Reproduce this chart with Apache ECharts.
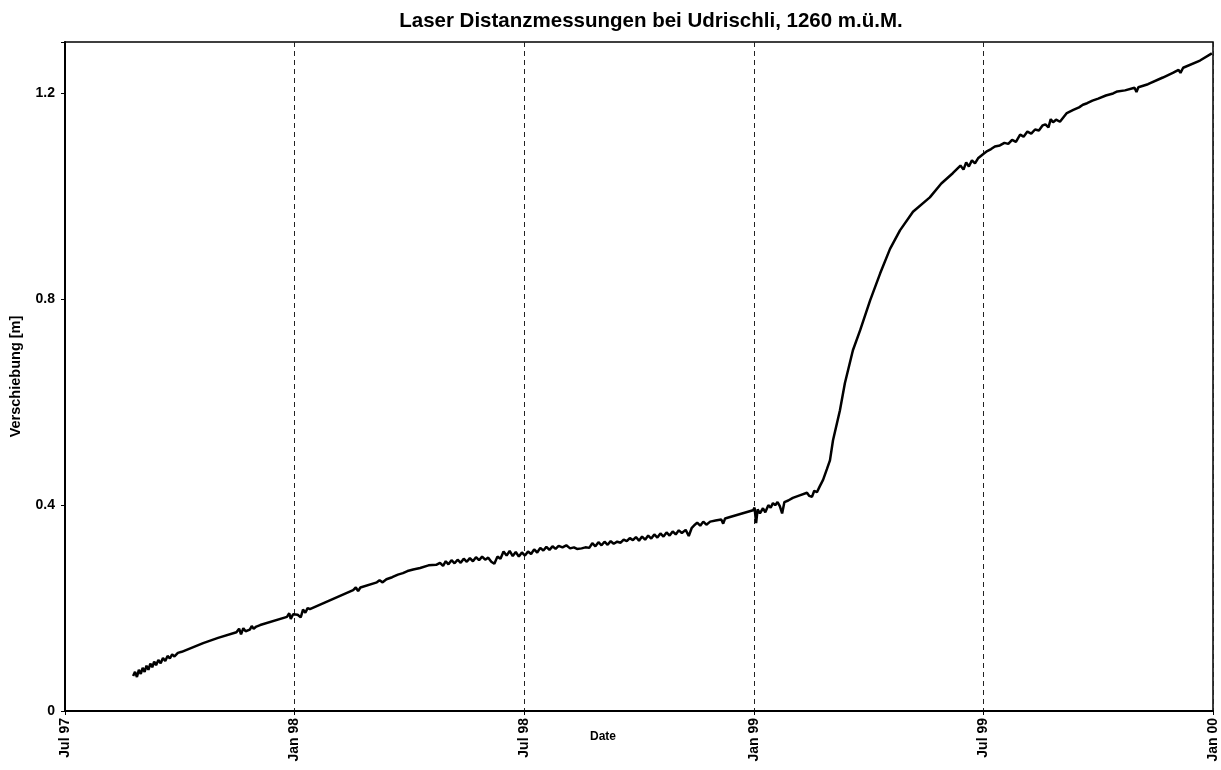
<!DOCTYPE html>
<html>
<head>
<meta charset="utf-8">
<title>Laser Distanzmessungen bei Udrischli</title>
<script src="https://cdn.jsdelivr.net/npm/echarts@6/dist/echarts.min.js"></script>
<style>
  html, body { margin: 0; padding: 0; background: #fff; }
  #chart { width: 1221px; height: 770px; }
</style>
</head>
<body>
<div id="chart"></div>
<script>
// x = months since 1 Jul 1997, y = displacement in m
const tickLabels = ['Jul 97', 'Jan 98', 'Jul 98', 'Jan 99', 'Jul 99', 'Jan 00']
const yTicks = [0, 0.4, 0.8, 1.2]

const months = [
  1.78, 1.83, 1.88, 1.93, 1.98, 2.03, 2.08, 2.13, 2.18, 2.23, 2.28, 2.33, 2.38, 2.44, 2.50, 2.56, 2.62, 2.68, 2.74, 2.80, 2.86, 2.95, 3.05,
  3.61, 4.00, 4.48, 4.55, 4.60, 4.66, 4.72, 4.83, 4.88, 4.93, 5.00, 5.10,
  5.80, 5.86, 5.90, 5.96, 6.01, 6.08, 6.16, 6.22, 6.28, 6.34, 6.40,
  7.53, 7.60, 7.66, 7.72, 8.15, 8.22, 8.30, 8.40, 8.55, 8.70, 8.83, 8.95, 9.10, 9.28, 9.50, 9.70,
  9.80, 9.88, 9.95, 10.02, 10.10, 10.18, 10.26, 10.34, 10.42, 10.50, 10.58, 10.66, 10.74, 10.82, 10.90, 10.98,
  11.06, 11.14, 11.22, 11.30, 11.38, 11.46, 11.54, 11.62, 11.70, 11.78, 11.86, 11.94, 12.02, 12.10, 12.18, 12.26,
  12.34, 12.42, 12.50, 12.58, 12.66, 12.74, 12.82, 12.90, 13.00, 13.10, 13.20, 13.30, 13.38, 13.50, 13.60, 13.70,
  13.78, 13.86, 13.94, 14.02, 14.10, 14.18, 14.26, 14.34, 14.43, 14.52, 14.60, 14.68, 14.76,
  14.84, 14.92, 15.00, 15.08, 15.16, 15.24, 15.32, 15.40, 15.48, 15.56, 15.64, 15.72, 15.80, 15.88, 15.96, 16.04,
  16.12, 16.22, 16.30, 16.38, 16.46, 16.52, 16.60, 16.68, 16.76, 16.86, 17.00, 17.15, 17.20, 17.25, 17.38,
  17.98, 18.02, 18.06, 18.10, 18.16, 18.24, 18.30, 18.38, 18.44, 18.50, 18.56, 18.62, 18.68, 18.74, 18.80, 18.90,
  19.02, 19.20, 19.39, 19.45, 19.52, 19.58, 19.65, 19.72, 19.81, 19.91, 19.99,
  20.07, 20.25, 20.38, 20.59, 20.78, 21.04, 21.30, 21.56, 21.82, 22.16, 22.60, 22.90, 23.20,
  23.40, 23.48, 23.55, 23.62, 23.70, 23.78, 23.86, 23.91, 23.99, 24.10, 24.20, 24.30, 24.43,
  24.55, 24.65, 24.75, 24.85, 24.96, 25.05, 25.15, 25.25, 25.35, 25.45, 25.55, 25.62, 25.70, 25.76, 25.82, 25.90, 26.00,
  26.18, 26.35, 26.50, 26.60, 26.71, 26.85, 27.00, 27.20, 27.39, 27.50, 27.70, 27.95, 28.00, 28.05, 28.30,
  28.69, 28.95, 29.10, 29.15, 29.22, 29.66, 29.97
]

const shift = [
  0.068, 0.076, 0.066, 0.080, 0.072, 0.084, 0.076, 0.088, 0.080, 0.092, 0.085, 0.096, 0.089, 0.099, 0.093, 0.103, 0.097, 0.107, 0.102, 0.110, 0.106, 0.113, 0.115,
  0.132, 0.142, 0.153, 0.160, 0.149, 0.161, 0.155, 0.158, 0.165, 0.160, 0.164, 0.167,
  0.183, 0.190, 0.179, 0.188, 0.185, 0.187, 0.182, 0.197, 0.191, 0.200, 0.198,
  0.235, 0.240, 0.233, 0.240, 0.250, 0.254, 0.250, 0.256, 0.260, 0.265, 0.268, 0.272, 0.275, 0.278, 0.283, 0.284,
  0.288, 0.282, 0.291, 0.285, 0.293, 0.287, 0.294, 0.288, 0.296, 0.290, 0.297, 0.291, 0.299, 0.293, 0.300, 0.294,
  0.298, 0.290, 0.286, 0.300, 0.296, 0.310, 0.302, 0.311, 0.301, 0.309, 0.300, 0.308, 0.302, 0.310, 0.305, 0.314,
  0.308, 0.317, 0.312, 0.319, 0.313, 0.320, 0.315, 0.321, 0.318, 0.322, 0.316, 0.318, 0.315, 0.316, 0.318, 0.317,
  0.326, 0.320, 0.328, 0.322, 0.329, 0.323, 0.330, 0.325, 0.329, 0.327, 0.333, 0.330, 0.336,
  0.332, 0.338, 0.331, 0.339, 0.333, 0.341, 0.335, 0.343, 0.337, 0.345, 0.339, 0.347, 0.341, 0.349, 0.343, 0.351,
  0.346, 0.352, 0.340, 0.356, 0.362, 0.366, 0.360, 0.368, 0.362, 0.368, 0.370, 0.372, 0.364, 0.374, 0.377,
  0.390, 0.395, 0.365, 0.392, 0.384, 0.394, 0.386, 0.400, 0.395, 0.404, 0.400, 0.406, 0.398, 0.384, 0.406, 0.409,
  0.414, 0.419, 0.424, 0.418, 0.416, 0.428, 0.425, 0.436, 0.449, 0.470, 0.487,
  0.526, 0.584, 0.637, 0.701, 0.740, 0.798, 0.850, 0.898, 0.934, 0.970, 0.998, 1.025, 1.045,
  1.060, 1.052, 1.066, 1.058, 1.070, 1.064, 1.074, 1.076, 1.082, 1.088, 1.092, 1.097, 1.099,
  1.104, 1.102, 1.110, 1.106, 1.120, 1.116, 1.126, 1.122, 1.130, 1.128, 1.138, 1.140, 1.134, 1.150, 1.144, 1.149, 1.145,
  1.162, 1.168, 1.173, 1.178, 1.181, 1.186, 1.190, 1.196, 1.200, 1.204, 1.206, 1.211, 1.203, 1.212, 1.218,
  1.231, 1.240, 1.246, 1.240, 1.250, 1.264, 1.278
]

const font = "'Liberation Sans', Arial, sans-serif"
const chart = echarts.init(document.getElementById('chart'))

chart.setOption({
  backgroundColor: '#fff',
  animation: false,
  title: {
    text: 'Laser Distanzmessungen bei Udrischli, 1260 m.ü.M.',
    left: 646,
    top: 6,
    textAlign: 'center',
    textStyle: { fontFamily: font, fontWeight: 'bold', fontSize: 20.5, color: '#000' }
  },
  grid: {
    left: 65,
    right: 8,
    top: 42,
    bottom: 59,
    outerBoundsMode: 'none',
    containLabel: false,
    show: true,
    borderColor: '#000',
    borderWidth: 1.5
  },
  xAxis: {
    type: 'value',
    min: 0,
    max: 30,
    interval: 6,
    name: 'Date',
    nameLocation: 'middle',
    nameGap: 20,
    nameMoveOverlap: false,
    nameTextStyle: { fontFamily: font, fontWeight: 'bold', fontSize: 12, color: '#000', padding: [0, 72, 0, 0] },
    axisLine: { lineStyle: { color: '#000', width: 2 } },
    axisTick: { show: true, length: 4, lineStyle: { color: '#000', width: 1 } },
    axisLabel: {
      rotate: 90,
      margin: 7,
      fontFamily: font,
      fontWeight: 'bold',
      fontSize: 14,
      color: '#000',
      formatter: v => tickLabels[Math.round(v / 6)] || ''
    },
    splitLine: { show: true, lineStyle: { color: '#222', width: 1, type: [5, 4] } }
  },
  yAxis: {
    type: 'value',
    min: 0,
    max: 1.3,
    interval: 0.4,
    name: 'Verschiebung [m]',
    nameLocation: 'middle',
    nameGap: 42,
    nameMoveOverlap: false,
    nameTextStyle: { fontFamily: font, fontWeight: 'bold', fontSize: 14.5, color: '#000' },
    axisLine: { show: true, lineStyle: { color: '#000', width: 2 } },
    axisTick: { show: true, length: 4, lineStyle: { color: '#000', width: 1 } },
    axisLabel: {
      margin: 10,
      fontFamily: font,
      fontWeight: 'bold',
      fontSize: 14,
      color: '#000',
      formatter: v => {
        const t = yTicks.find(y => Math.abs(y - v) < 1e-6)
        if (t === undefined) return ''
        return t === 0 ? '0' : t.toFixed(1)
      }
    },
    splitLine: { show: false }
  },
  series: [
    {
      name: 'Verschiebung',
      type: 'line',
      data: months.map((m, i) => [m, shift[i]]),
      showSymbol: false,
      symbol: 'none',
      lineStyle: { color: '#000', width: 2.5 },
      z: 3
    }
  ]
})
</script>
</body>
</html>
